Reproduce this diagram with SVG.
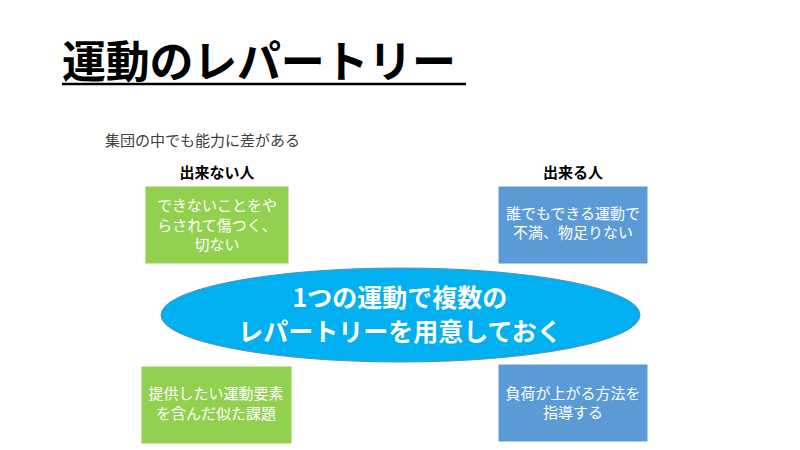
<svg xmlns="http://www.w3.org/2000/svg" width="800" height="450" viewBox="0 0 800 450">
<style>
text{font-family:"Noto Sans CJK JP","Noto Sans",sans-serif}
.box-text{fill:#ffffff;font-size:15px;text-anchor:middle}
.green{fill:#92D050;stroke:#ffffff;stroke-width:1}
.blue{fill:#5B9BD5;stroke:#ffffff;stroke-width:1}
.label{fill:#000000;font-size:15px;font-weight:bold;text-anchor:middle}
</style>
<rect width="800" height="450" fill="#ffffff"/>
<g id="title">
<text x="62" y="78" font-size="44" font-weight="bold" fill="#000000" textLength="394">運動のレパートリー</text>
<line x1="62" y1="84" x2="466" y2="84" stroke="#000000" stroke-width="2.5"/>
</g>
<g id="subtitle"><text x="105" y="146" font-size="15" fill="#404040">集団の中でも能力に差がある</text></g>
<g id="label-cannot"><text class="label" x="217" y="178">出来ない人</text></g>
<g id="label-can"><text class="label" x="573" y="178">出来る人</text></g>
<g id="connectors"></g>
<g id="box-top-left">
<rect class="green" x="145" y="186" width="144" height="78"/>
<text class="box-text" x="217" y="211">できないことをや</text>
<text class="box-text" x="217" y="231">らされて傷つく、</text>
<text class="box-text" x="217" y="250">切ない</text>
</g>
<g id="box-top-right">
<rect class="blue" x="498" y="186" width="150" height="78"/>
<text class="box-text" x="573" y="219">誰でもできる運動で</text>
<text class="box-text" x="573" y="238">不満、物足りない</text>
</g>
<g id="center-ellipse">
<ellipse cx="400.5" cy="315" rx="239.5" ry="47" fill="#00B0F0" stroke="#5B8DB8" stroke-width="1"/>
<text x="400" y="307" font-size="25" font-weight="bold" fill="#ffffff" text-anchor="middle">1つの運動で複数の</text>
<text x="400" y="341" font-size="25" font-weight="bold" fill="#ffffff" text-anchor="middle">レパートリーを用意しておく</text>
</g>
<g id="box-bottom-left">
<rect class="green" x="141" y="366" width="151" height="78"/>
<text class="box-text" x="216" y="399">提供したい運動要素</text>
<text class="box-text" x="216" y="419">を含んだ似た課題</text>
</g>
<g id="box-bottom-right">
<rect class="blue" x="498" y="364" width="150" height="78"/>
<text class="box-text" x="573" y="399">負荷が上がる方法を</text>
<text class="box-text" x="573" y="418">指導する</text>
</g>
</svg>
